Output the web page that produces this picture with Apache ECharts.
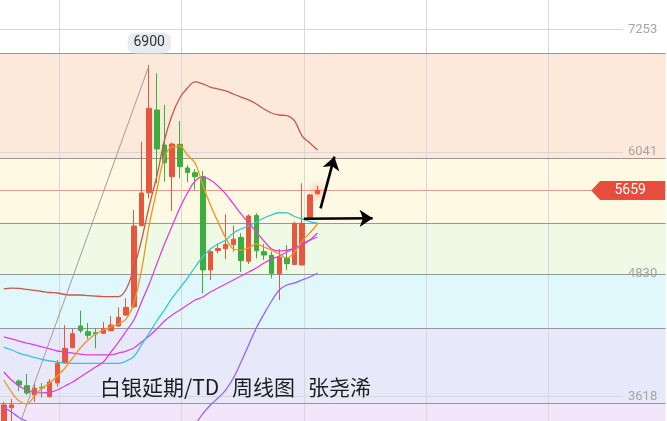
<!DOCTYPE html>
<html>
<head>
<meta charset="utf-8">
<script src="https://cdn.jsdelivr.net/npm/echarts@6/dist/echarts.min.js"></script>
<style>html,body{margin:0;padding:0;background:#fff}#c{width:667px;height:421px}</style>
</head>
<body>
<div id="c"></div>
<script>
// ---- data (weekly candles, visible window) ----
const categories = Array.from({length: 87}, (_, i) => 'W' + (i + 1));
const opens  = [3290,3509,3773,3727,3635,3711,3618,3754,3954,4103,4318,4261,4251,4245,4271,4318,4426,4508,5312,5636,6455,6108,5795,6115,5881,5834,5795,4872,5065,5082,5124,5193,4958,5411,5053,5017,4835,4990,4926,4921,5376,5626];
const closes = [3536,3536,3734,3655,3701,3704,3763,3948,4097,4241,4273,4225,4238,4291,4327,4404,4502,5307,5633,6471,6069,5933,6118,5894,5836,5795,4872,5053,5084,5124,5176,4964,5406,5062,5020,4839,5000,4934,5334,5334,5614,5659];
const lows   = [3190,3300,3674,3635,3566,3610,3610,3719,3946,4097,4248,4189,4097,4238,4263,4308,4416,4496,5300,5581,5729,5745,5455,5779,5742,5663,4641,4773,5037,4980,5053,4852,4931,4987,4971,4789,4575,4872,4921,4916,5366,5618];
const highs  = [3568,3595,3788,3843,3749,3754,3793,3981,4327,4288,4469,4347,4295,4357,4416,4503,4592,5465,6141,6900,6818,6504,6133,6346,5910,5871,5851,5065,5134,5421,5312,5235,5423,5433,5129,5053,5079,5119,5349,5729,5624,5703];

const ma5  = [3783,3665,3575,3546,3625,3704,3754,3823,3902,4001,4100,4179,4238,4278,4308,4337,4387,4545,4872,5317,5663,5990,6089,6098,6009,5930,5713,5515,5346,5188,5079,5069,5089,5129,5099,5069,5030,4990,5050,5158,5238,5327];
const ma10 = [3862,3783,3724,3684,3665,3655,3660,3684,3724,3763,3813,3862,3912,3961,4060,4159,4268,4377,4555,4733,4931,5129,5307,5485,5633,5752,5792,5762,5703,5624,5525,5426,5337,5248,5158,5079,5060,5069,5089,5119,5168,5238];
const ma20 = [4105,4080,4050,4026,4006,3986,3971,3961,3951,3948,3948,3948,3948,3948,3948,3948,3971,4016,4130,4248,4367,4476,4595,4693,4792,4901,5000,5079,5129,5168,5238,5277,5307,5346,5386,5416,5438,5436,5401,5376,5351,5334];
const ma30 = [4209,4189,4169,4149,4130,4110,4090,4070,4060,4050,4040,4031,4031,4031,4031,4050,4070,4100,4159,4219,4288,4367,4426,4476,4525,4575,4604,4654,4693,4733,4773,4812,4852,4891,4941,4980,5010,5050,5089,5129,5168,5198];
const bollUpper = [4684,4693,4689,4679,4669,4659,4649,4644,4629,4624,4624,4619,4614,4609,4609,4609,4684,4891,5168,5505,5802,6158,6405,6573,6672,6732,6712,6682,6662,6643,6613,6583,6554,6514,6465,6425,6405,6400,6346,6197,6128,6059];
const bollLower = [3510,3467,3412,3373,3343,3313,3294,3279,3274,3273,3273,3278,3283,3288,3288,3288,3259,3140,3091,2992,2932,2894,2884,2914,2993,3328,3447,3536,3605,3684,3803,3961,4130,4298,4436,4565,4674,4723,4743,4773,4802,4842];

// ---- levels & ticks ----
const yTicks = [3618, 4830, 6041, 7253];
const bandLevels = [7015, 5977, 5334, 4830, 4295, 3553, 3300];
const bandColors = ['#fde9da', '#fdf9e3', '#eef9e6', '#e0f7fb', '#e7e9fb', '#f4e6fa'];
const vGridAt = [7.2, 23.2, 39.2, 55.2, 71.2];
const lastPrice = 5659;
const trendLine = [[2.24, 3380], [19, 6900]];
const arrowUp = [[41.4, 5482], [43.2, 5993]];
const arrowRight = [[39.2, 5378], [48.2, 5384]];
const titleParts = ['白银延期/TD', '周线图', '张尧浠'];

const Y_MIN = 3377.5, Y_MAX = 7543;

const candleData = opens.map((o, i) => {
  const item = { value: [o, closes[i], lows[i], highs[i]] };
  if (i === opens.length - 1) {
    item.itemStyle = { shadowBlur: 8, shadowColor: 'rgba(240,60,40,0.9)' };
  }
  return item;
});
let peakIdx = 0;
highs.forEach((h, i) => { if (h > highs[peakIdx]) peakIdx = i; });

const bandAreas = bandColors.map((c, i) => [
  { yAxis: bandLevels[i], itemStyle: { color: c } },
  { yAxis: bandLevels[i + 1] }
]);

function maLine(name, data, color) {
  return {
    name, type: 'line', data, xAxisIndex: 0, yAxisIndex: 0,
    symbol: 'none', smooth: 0.35, z: 7, clip: true,
    lineStyle: { color, width: 1.3 }
  };
}

const titleStyle = { fontSize: 21, fontWeight: 'normal', color: '#1c1c1c', fontFamily: '"Noto Sans CJK SC"' };

const chart = echarts.init(document.getElementById('c'), null, { renderer: 'canvas' });
chart.setOption({
  animation: false,
  backgroundColor: '#ffffff',
  textStyle: { fontFamily: 'Roboto, "Liberation Sans", sans-serif' },
  title: [
    { text: titleParts[0], left: 100, top: 377, padding: 0, textStyle: titleStyle },
    { text: titleParts[1], left: 232, top: 377, padding: 0, textStyle: titleStyle },
    { text: titleParts[2], left: 308, top: 377, padding: 0, textStyle: titleStyle }
  ],
  grid: [
    { left: -1.33, right: 1.33, top: 0, bottom: 0 },
    { left: -1.33, right: 44, top: 0, bottom: 0 }
  ],
  xAxis: [
    { type: 'category', gridIndex: 0, data: categories, boundaryGap: true,
      axisLine: { show: false }, axisTick: { show: false }, axisLabel: { show: false }, splitLine: { show: false } },
    { type: 'value', gridIndex: 0, min: -0.5, max: 86.5, z: 3,
      axisLine: { show: false }, axisLabel: { show: false },
      axisTick: { show: false, customValues: vGridAt },
      splitLine: { show: true, lineStyle: { color: '#d8d8d8', width: 1 } } },
    { type: 'value', gridIndex: 1, min: 0, max: 1, show: false }
  ],
  yAxis: [
    { type: 'value', gridIndex: 0, min: Y_MIN, max: Y_MAX, show: false, splitLine: { show: false } },
    { type: 'value', gridIndex: 1, min: Y_MIN, max: Y_MAX, position: 'right', z: 3,
      axisLine: { show: false },
      axisTick: { show: false, customValues: yTicks },
      axisLabel: { show: true, customValues: yTicks, margin: 5, color: '#a5a5a5', fontSize: 13,
        formatter: v => String(Math.round(v)) },
      splitLine: { show: true, lineStyle: { color: '#d6d6d6', width: 1 } } }
  ],
  series: [
    { name: 'bands', type: 'line', xAxisIndex: 1, yAxisIndex: 0, data: [], z: 1, silent: true,
      markArea: { silent: true, z: 1, data: bandAreas },
      markLine: { silent: true, z: 4, symbol: 'none', label: { show: false },
        lineStyle: { color: '#979797', width: 1, type: 'solid' },
        data: bandLevels.slice(0, 6).map(v => ({ yAxis: v })) } },
    { name: 'priceLine', type: 'line', xAxisIndex: 1, yAxisIndex: 0, data: [], z: 5, silent: true,
      markLine: { silent: true, z: 5, symbol: 'none', label: { show: false },
        lineStyle: { color: '#e69a88', width: 1, type: 'solid' },
        data: [ { yAxis: lastPrice } ] } },
    { name: 'K', type: 'candlestick', xAxisIndex: 0, yAxisIndex: 0, data: candleData, z: 6,
      barWidth: 5,
      itemStyle: { color: '#e8573d', color0: '#3cae3f', borderColor: '#e8573d', borderColor0: '#3cae3f', borderWidth: 1 } },
    maLine('upper', bollUpper, '#c5574c'),
    maLine('lower', bollLower, '#9565ef'),
    maLine('ma30', ma30, '#e03fda'),
    maLine('ma20', ma20, '#34c6da'),
    maLine('ma10', ma10, '#e03fda'),
    maLine('ma5', ma5, '#f5931c'),
    { name: 'trend', type: 'line', xAxisIndex: 1, yAxisIndex: 0, data: [], z: 8, silent: true,
      markLine: { silent: true, z: 8, symbol: 'none', label: { show: false },
        lineStyle: { color: '#a49a96', width: 1, type: 'solid' },
        data: [ [ { coord: trendLine[0] }, { coord: trendLine[1] } ] ] } },
    { name: 'arrows', type: 'line', xAxisIndex: 1, yAxisIndex: 0, data: [], z: 10, silent: true,
      markLine: { silent: true, z: 10, symbol: ['none', 'arrow'], symbolSize: 13, label: { show: false },
        lineStyle: { color: '#000', width: 2.6, type: 'solid' },
        data: [
          [ { coord: arrowUp[0] }, { coord: arrowUp[1] } ],
          [ { coord: arrowRight[0] }, { coord: arrowRight[1] } ]
        ] },
      markPoint: { silent: true, z: 20,
        data: [
          { coord: [81.6, lastPrice], symbol: 'path://M0,10 L9,0 L74,0 L74,20 L9,20 Z', symbolSize: [74, 19], symbolKeepAspect: false,
            itemStyle: { color: '#e84c3d' },
            label: { show: true, position: 'inside', formatter: String(lastPrice), color: '#fff', fontSize: 14, offset: [2, 0] } },
          { coord: [peakIdx, highs[peakIdx]], symbol: 'roundRect', symbolSize: [43, 21], symbolOffset: [0, -22],
            itemStyle: { color: '#e8ebf0' },
            label: { show: true, position: 'inside', formatter: String(highs[peakIdx]), color: '#333', fontSize: 14 } }
        ] } }
  ]
});
</script>
</body>
</html>
